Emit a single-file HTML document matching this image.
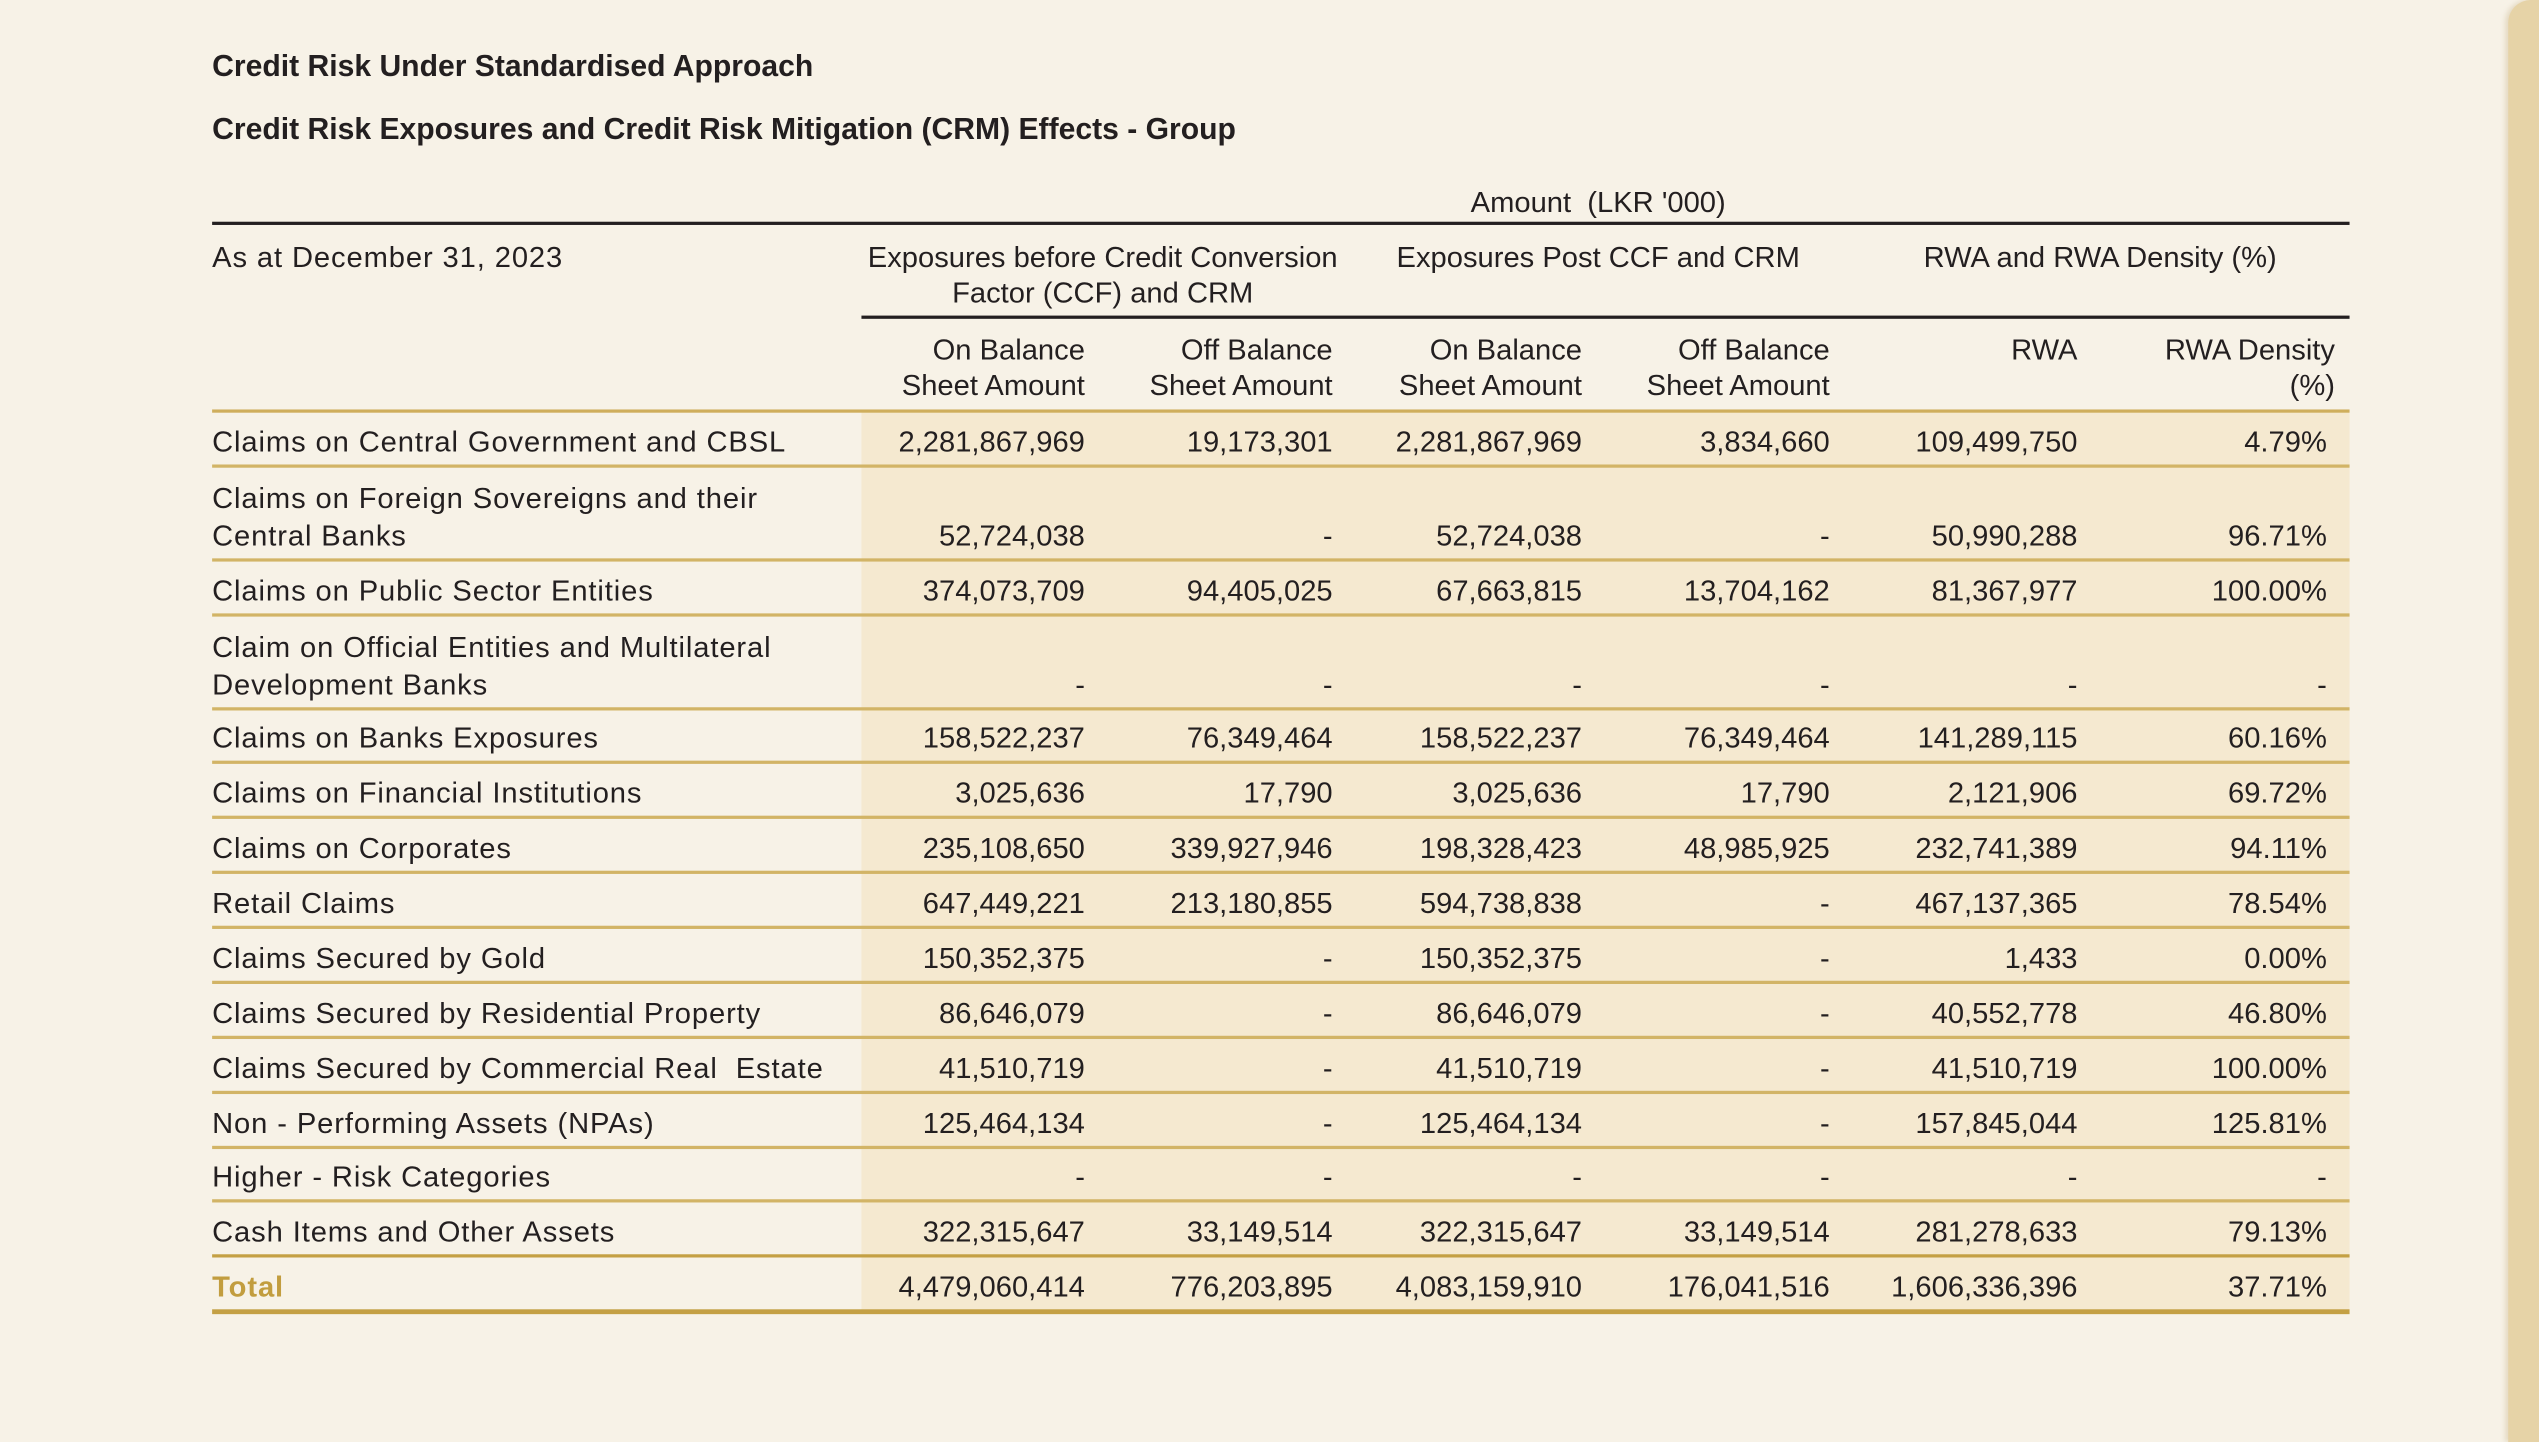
<!DOCTYPE html>
<html><head><meta charset="utf-8">
<style>
html,body{margin:0;padding:0;width:2539px;height:1442px;overflow:hidden;background:#f7f2e7;}
#w{position:absolute;left:0;top:0;width:1568px;height:891px;transform-origin:0 0;transform:scale(1.61926,1.61841);font-family:"Liberation Sans",sans-serif;color:#231f20;}
.t{position:absolute;white-space:nowrap;font-size:18px;line-height:22px;}
.b{font-weight:bold;font-size:18.6px;}
.r{text-align:right;width:220px;}
.c{text-align:center;}
.lab{letter-spacing:0.55px;}
.ln{position:absolute;height:1.5px;background:#cfae5c;}
</style></head><body><div id="w">
<div style="position:absolute;left:1549px;top:0;width:19px;height:891px;background:#e6d3a7;box-shadow:-2px 0 3px rgba(180,150,90,0.25);border-top-left-radius:14px;"></div>
<div style="position:absolute;left:532px;top:254px;width:919px;height:556px;background:#f5e9d0;"></div>
<div class="t b" style="left:131px;top:30px;">Credit Risk Under Standardised Approach</div>
<div class="t b" style="left:131px;top:69px;">Credit Risk Exposures and Credit Risk Mitigation (CRM) Effects - Group</div>
<div class="t c" style="left:837px;width:300px;top:114px;">Amount&nbsp; (LKR '000)</div>
<div style="position:absolute;left:131px;top:137px;width:1320px;height:2px;background:#231f20;"></div>
<div class="t lab" style="left:131px;top:148px;">As at December 31, 2023</div>
<div class="t c" style="left:532px;width:298px;top:148px;">Exposures before Credit Conversion<br>Factor (CCF) and CRM</div>
<div class="t c" style="left:838px;width:298px;top:148px;">Exposures Post CCF and CRM</div>
<div class="t c" style="left:1148px;width:298px;top:148px;">RWA and RWA Density (%)</div>
<div style="position:absolute;left:532px;top:195px;width:919px;height:2px;background:#231f20;"></div>
<div class="t r" style="left:450px;top:205px;">On Balance<br>Sheet Amount</div>
<div class="t r" style="left:603px;top:205px;">Off Balance<br>Sheet Amount</div>
<div class="t r" style="left:757px;top:205px;">On Balance<br>Sheet Amount</div>
<div class="t r" style="left:910px;top:205px;">Off Balance<br>Sheet Amount</div>
<div class="t r" style="left:1063px;top:205px;">RWA</div>
<div class="t r" style="left:1222px;top:205px;">RWA Density<br>(%)</div>
<div class="ln" style="left:131px;width:1320px;top:253px;"></div>
<div id="rows"></div>
<script>
var rows=[
[["Claims on Central Government and CBSL"],["2,281,867,969","19,173,301","2,281,867,969","3,834,660","109,499,750","4.79%"],288],
[["Claims on Foreign Sovereigns and their","Central Banks"],["52,724,038","-","52,724,038","-","50,990,288","96.71%"],346],
[["Claims on Public Sector Entities"],["374,073,709","94,405,025","67,663,815","13,704,162","81,367,977","100.00%"],380],
[["Claim on Official Entities and Multilateral","Development Banks"],["-","-","-","-","-","-"],438],
[["Claims on Banks Exposures"],["158,522,237","76,349,464","158,522,237","76,349,464","141,289,115","60.16%"],471],
[["Claims on Financial Institutions"],["3,025,636","17,790","3,025,636","17,790","2,121,906","69.72%"],505],
[["Claims on Corporates"],["235,108,650","339,927,946","198,328,423","48,985,925","232,741,389","94.11%"],539],
[["Retail Claims"],["647,449,221","213,180,855","594,738,838","-","467,137,365","78.54%"],573],
[["Claims Secured by Gold"],["150,352,375","-","150,352,375","-","1,433","0.00%"],607],
[["Claims Secured by Residential Property"],["86,646,079","-","86,646,079","-","40,552,778","46.80%"],641],
[["Claims Secured by Commercial Real&nbsp; Estate"],["41,510,719","-","41,510,719","-","41,510,719","100.00%"],675],
[["Non - Performing Assets (NPAs)"],["125,464,134","-","125,464,134","-","157,845,044","125.81%"],709],
[["Higher - Risk Categories"],["-","-","-","-","-","-"],742],
[["Cash Items and Other Assets"],["322,315,647","33,149,514","322,315,647","33,149,514","281,278,633","79.13%"],776],
[["Total"],["4,479,060,414","776,203,895","4,083,159,910","176,041,516","1,606,336,396","37.71%"],810]
];
var rx=[670,823,977,1130,1283,1437],h="";
rows.forEach(function(r,i){
 var b=r[2],c=b-15;
 var lab=r[0];
 if(lab.length==2){h+='<div class="t lab" style="left:131px;top:'+(c-34)+'px">'+lab[0]+'</div>';}
 h+='<div class="t lab" style="left:131px;top:'+(c-11)+'px;'+(lab[0]=="Total"?'color:#c29d3f;font-weight:bold;':'')+'">'+lab[lab.length-1]+'</div>';
 r[1].forEach(function(v,j){h+='<div class="t r" style="left:'+(rx[j]-220)+'px;top:'+(c-11)+'px">'+v+'</div>';});
 var th=(i==13)?2.5:(i==14?3:1.5), col=(i>=13)?'#c4a044':'#d2b466';
 h+='<div class="ln" style="left:131px;width:1320px;top:'+(b-th/2)+'px;height:'+th+'px;background:'+col+'"></div>';
});
document.getElementById('rows').innerHTML=h;
</script>
</div></body></html>
